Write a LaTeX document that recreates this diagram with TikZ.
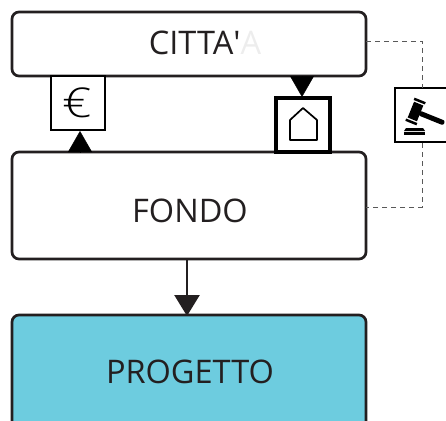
\documentclass[tikz,border=0pt]{standalone}
\usepackage{fontspec}
\setmainfont{Open Sans}
\newfontfamily\plainfont{Open Sans}
\newfontfamily\thinfont{Open Sans Light}
\usetikzlibrary{arrows.meta,positioning}
\definecolor{ink}{HTML}{231F20}
\definecolor{sky}{HTML}{6DCCDF}
\tikzset{
  every node/.style={outer sep=0pt},
  bigbox/.style={draw=ink,line width=2.7pt,rounded corners=7pt,minimum width=354pt,inner sep=0pt},
  bigtext/.style={text=ink,font=\fontsize{32.5}{36}\selectfont,anchor=base,inner sep=0pt},
  iconbox/.style={draw=black,fill=white,line width=1.7pt,inner sep=0pt,minimum width=54pt,minimum height=54pt},
  dash link/.style={draw=black!65,line width=.7pt,dash pattern=on 5pt off 4pt},
  tri/.style={-{Triangle[length=21pt,width=24pt]},line width=.5pt,black},
  flow/.style={-{Triangle[length=21pt,width=25pt]},line width=2.5pt,draw=ink,color=ink},
}
\begin{document}
\begin{tikzpicture}[x=1pt,y=-1pt]
\useasboundingbox (0,0) rectangle (446,420);
\clip (0,0) rectangle (446,420);
\node[bigbox,minimum height=64pt,anchor=north west] (citta) at (12,12) {};
\node[bigtext] (cittatxt) at (205,55) {CITTA{\plainfont '}\textcolor{black!7}{A}};
\node[bigbox,minimum height=107pt,anchor=north west] (fondo) at (12,152) {};
\node[bigtext] (fondotxt) at (190,222) {FONDO};
\node[bigbox,fill=sky,minimum height=120pt,anchor=north west] (progetto) at (12,315) {};
\node[bigtext] (progtxt) at (190,383) {PROGETTO};
\node[iconbox,anchor=north west] (euro) at (51,76) {};
\node[inner sep=0pt,anchor=center] (eurotxt) at (77,103) {\thinfont\fontsize{41}{41}\selectfont\scalebox{1.25}[1]{€}};
\node[iconbox,line width=4.8pt,anchor=north west] (house) at (276,98) {};
\node[iconbox,anchor=north west,minimum width=70pt] (gavel) at (395,88) {};
\coordinate (houseIn) at (302,76);
\coordinate (euroIn) at (80,152);
\coordinate (flowOut) at (187,259);
\coordinate (flowIn) at (187,316);
\coordinate (cittaE) at (366,41);
\coordinate (cittaC) at (422,41);
\coordinate (gavT) at (422,88);
\coordinate (gavB) at (422,143);
\coordinate (fondoC) at (422,207);
\coordinate (fondoE) at (366,207);
\draw[tri] (houseIn) -- (302,97);
\draw[tri] (euroIn) -- (80,131);
\draw[flow] (flowOut) -- (flowIn);
\draw[dash link] (cittaE) -- (cittaC) -- (gavT);
\draw[dash link] (gavB) -- (fondoC) -- (fondoE);
% house glyph
\draw[black,line width=1.7pt,line join=round] (290,140) -- (290,120) -- (303,108) -- (317,120) -- (317,140) -- cycle;
% gavel
\begin{scope}[shift={(415.500,111.500)},rotate=-22]
 \fill[black,rounded corners=2pt] (4,-2.500) rectangle (31,2.500);
 \fill[black] (-5,-8.500) rectangle (5,8.500);
 \fill[black] (-6,-12.500) rectangle (6,-10);
 \fill[black] (-6,10) rectangle (6,12.500);
\end{scope}
\fill[black] (404,131) -- (406,128) -- (423,128) -- (425,131) -- cycle;
\fill[black] (404,132) rectangle (425,134.500);
\end{tikzpicture}
\end{document}
